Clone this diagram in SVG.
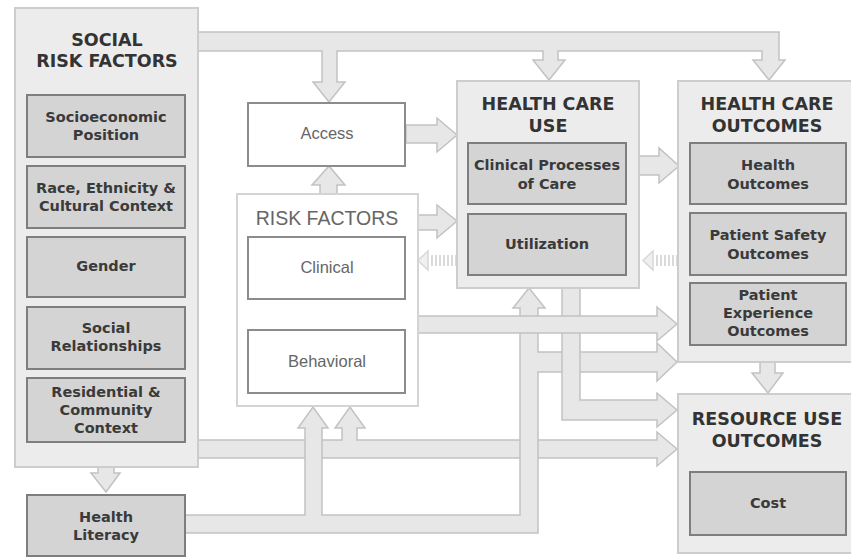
<svg xmlns="http://www.w3.org/2000/svg" width="851" height="557" viewBox="0 0 851 557">
<style>
.outer{fill:#ececec;stroke:#cdcdcd;stroke-width:2}
.inner{fill:#d4d4d4;stroke:#7e7e7e;stroke-width:2}
.white{fill:#ffffff;stroke:#8c8c8c;stroke-width:2}
.rf{fill:#ffffff;stroke:#d4d4d4;stroke-width:2}
.arr{fill:#e7e7e7;stroke:#c2c2c2;stroke-width:1.5;stroke-linejoin:miter}
.title{font-family:"DejaVu Sans",sans-serif;font-weight:bold;font-size:17.5px;fill:#333;text-anchor:middle}
.lbl{font-family:"DejaVu Sans",sans-serif;font-weight:bold;font-size:14.5px;fill:#3a3a3a;text-anchor:middle}
.lt{font-family:"Liberation Sans",sans-serif;font-size:16.5px;fill:#666;text-anchor:middle}
.stripe{stroke:#dadada;stroke-width:11;stroke-dasharray:2 2;fill:none}
.shead{fill:#f0f0f0;stroke:#d8d8d8;stroke-width:1.5}
</style>
<rect width="851" height="557" fill="#ffffff"/>
<g id="connectors">
  <path class="arr" d="M198,32 H779 V60 H785 L769,80 L753,60 H762 V51 H558 V60 H565 L549,80 L533,60 H543 V51 H337 V82 H345 L329,102 L313,82 H322 V51 H198 Z"/>
  <path class="arr" d="M98,467 H114 V473 H120 L106,492 L91,473 H98 Z"/>
  <path class="arr" d="M760,362 H775 V373 H783 L768,393 L752,373 H760 Z"/>
  <path class="arr" d="M320,194 V185 H312 L329,166 L345,185 H337 V194 Z"/>
  <path class="arr" d="M320,330 V322 H312 L329,299 L345,322 H337 V330 Z"/>
  <path class="arr" d="M406,125 H437 V118 L457,135 L437,152 V143 H406 Z"/>
  <path class="arr" d="M418,215 H437 V205 L457,221 L437,238 V230 H418 Z"/>
  <path class="arr" d="M639,156 H659 V148 L679,166 L659,183 V175 H639 Z"/>
  <path class="arr" d="M198,440 H342 V428 H335 L350,407 L365,428 H357 V440 H657 V432 L677,449 L657,466 V458 H198 Z"/>
  <path class="arr" d="M185,515 H305 V428 H298 L313,407 L328,428 H322 V515 H520 V308 H513 L529,288 L545,308 H538 V352 H657 V343 L677,362 L657,381 V372 H538 V533 H185 Z"/>
  <path class="arr" d="M562,288 H580 V400 H657 V393 L677,410 L657,427 V420 H562 Z"/>
  <path class="arr" d="M418,316 H657 V307 L677,324 L657,341 V333 H418 Z"/>
  <path class="stripe" d="M431,260.5 H457"/>
  <path class="shead" d="M428,251 L418,260.5 L428,270 Z"/>
  <path class="stripe" d="M656,260.5 H678"/>
  <path class="shead" d="M653,251 L643,260.5 L653,270 Z"/>
</g>
<g id="social-risk-factors">
  <rect class="outer" x="15" y="8" width="183" height="459"/>
  <text class="title" x="107" y="46">SOCIAL</text>
  <text class="title" x="107" y="67">RISK FACTORS</text>
</g>
<g id="socioeconomic-position">
  <rect class="inner" x="27" y="95" width="158" height="62"/>
  <text class="lbl" x="106" y="122">Socioeconomic</text>
  <text class="lbl" x="106" y="140">Position</text>
</g>
<g id="race-ethnicity">
  <rect class="inner" x="27" y="166" width="158" height="62"/>
  <text class="lbl" x="106" y="193">Race, Ethnicity &amp;</text>
  <text class="lbl" x="106" y="211">Cultural Context</text>
</g>
<g id="gender">
  <rect class="inner" x="27" y="237" width="158" height="60"/>
  <text class="lbl" x="106" y="271">Gender</text>
</g>
<g id="social-relationships">
  <rect class="inner" x="27" y="307" width="158" height="62"/>
  <text class="lbl" x="106" y="333">Social</text>
  <text class="lbl" x="106" y="351">Relationships</text>
</g>
<g id="residential-community">
  <rect class="inner" x="27" y="378" width="158" height="64"/>
  <text class="lbl" x="106" y="397">Residential &amp;</text>
  <text class="lbl" x="106" y="415">Community</text>
  <text class="lbl" x="106" y="433">Context</text>
</g>
<g id="health-literacy">
  <rect class="inner" x="27" y="495" width="158" height="61"/>
  <text class="lbl" x="106" y="522">Health</text>
  <text class="lbl" x="106" y="540">Literacy</text>
</g>
<g id="access">
  <rect class="white" x="248" y="103" width="157" height="63"/>
  <text class="lt" x="327" y="139">Access</text>
</g>
<g id="risk-factors">
  <rect class="rf" x="237" y="194" width="181" height="212"/>
  <text class="lt" x="327" y="225" style="font-size:19.5px">RISK FACTORS</text>
</g>
<g id="clinical">
  <rect class="white" x="248" y="237" width="157" height="62"/>
  <text class="lt" x="327" y="273">Clinical</text>
</g>
<g id="behavioral">
  <rect class="white" x="248" y="330" width="157" height="63"/>
  <text class="lt" x="327" y="367">Behavioral</text>
</g>
<g id="health-care-use">
  <rect class="outer" x="457" y="81" width="182" height="207"/>
  <text class="title" x="548" y="110">HEALTH CARE</text>
  <text class="title" x="548" y="132">USE</text>
</g>
<g id="clinical-processes">
  <rect class="inner" x="468" y="143" width="158" height="61"/>
  <text class="lbl" x="547" y="170">Clinical Processes</text>
  <text class="lbl" x="547" y="189">of Care</text>
</g>
<g id="utilization">
  <rect class="inner" x="468" y="214" width="158" height="61"/>
  <text class="lbl" x="547" y="249">Utilization</text>
</g>
<g id="health-care-outcomes">
  <rect class="outer" x="678" y="81" width="180" height="281"/>
  <text class="title" x="767" y="110">HEALTH CARE</text>
  <text class="title" x="767" y="132">OUTCOMES</text>
</g>
<g id="health-outcomes">
  <rect class="inner" x="690" y="143" width="156" height="61"/>
  <text class="lbl" x="768" y="170">Health</text>
  <text class="lbl" x="768" y="189">Outcomes</text>
</g>
<g id="patient-safety">
  <rect class="inner" x="690" y="213" width="156" height="62"/>
  <text class="lbl" x="768" y="240">Patient Safety</text>
  <text class="lbl" x="768" y="259">Outcomes</text>
</g>
<g id="patient-experience">
  <rect class="inner" x="690" y="283" width="156" height="62"/>
  <text class="lbl" x="768" y="300">Patient</text>
  <text class="lbl" x="768" y="318">Experience</text>
  <text class="lbl" x="768" y="336">Outcomes</text>
</g>
<g id="resource-use-outcomes">
  <rect class="outer" x="678" y="394" width="180" height="159"/>
  <text class="title" x="767" y="425">RESOURCE USE</text>
  <text class="title" x="767" y="447">OUTCOMES</text>
</g>
<g id="cost">
  <rect class="inner" x="690" y="472" width="156" height="63"/>
  <text class="lbl" x="768" y="508">Cost</text>
</g>
</svg>
